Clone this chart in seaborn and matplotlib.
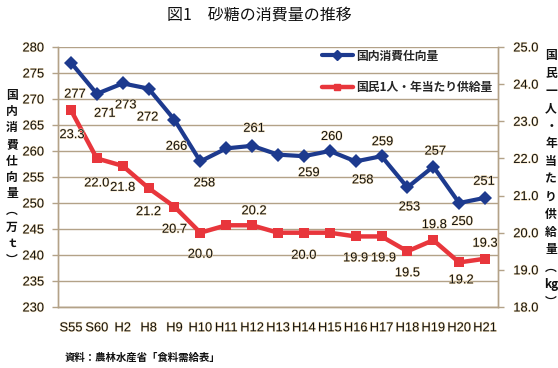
import numpy as np
import pandas as pd
import seaborn as sns
import matplotlib.pyplot as plt
import matplotlib.patheffects as pe
from matplotlib.lines import Line2D

# データ（農林水産省「食料需給表」）
years = ['S55', 'S60', 'H2', 'H8', 'H9', 'H10', 'H11', 'H12', 'H13',
         'H14', 'H15', 'H16', 'H17', 'H18', 'H19', 'H20', 'H21']
consumption = [277, 271, 273, 272, 266, 258, 260.5, 261, 259.3,
               259, 260, 258, 259, 253, 257, 250, 251]
per_capita = [23.3, 22.0, 21.8, 21.2, 20.7, 20.0, 20.2, 20.2, 20.0,
              20.0, 20.0, 19.9, 19.9, 19.5, 19.8, 19.2, 19.3]
consumption_labels = ['277', '271', '273', '272', '266', '258', None, '261', None,
                      '259', '260', '258', '259', '253', '257', '250', '251']
per_capita_labels = ['23.3', '22.0', '21.8', '21.2', '20.7', '20.0', None, '20.2', None,
                     '20.0', None, '19.9', '19.9', '19.5', '19.8', '19.2', '19.3']
left_ticks = [230, 235, 240, 245, 250, 255, 260, 265, 270, 275, 280]
right_ticks = [18.0, 19.0, 20.0, 21.0, 22.0, 23.0, 24.0, 25.0]

# ラベル位置（ピクセル単位のずらし量）
blue_off = [(4, -32), (8, -20), (3, -22), (-1, -29), (2, -27), (4, -22), None, (2, 17), None,
            (5, -17), (2, 14), (7, -19), (1, 14), (2, -20), (2, 15), (3, -19), (-1, 16)]
red_off = [(1, -25), (0, -25), (0, -22), (0, -24), (0, -23), (0, -22), None, (2, 14), None,
           (0, -23), None, (0, -22), (2, -22), (0, -22), (1, 15), (2, -18), (0, 15)]

BLUE = '#1D3A8E'
RED = '#E8363C'
GRID = '#B3A288'
TXT = '#111111'
NUM_FONT = ['Liberation Sans', 'DejaVu Sans']
JP_FONT = ['Noto Sans CJK JP', 'DejaVu Sans']
NUM_SIZE = 9.3
halo = [pe.withStroke(linewidth=0.8, foreground='#FBE6BE')]

sns.set_style('white')
plt.rcParams['font.family'] = NUM_FONT

df = pd.DataFrame({'x': np.arange(len(years)), 'consumption': consumption,
                   'per_capita': per_capita})

fig = plt.figure(figsize=(5.58, 3.68), dpi=100)
ax = fig.add_axes([58 / 558, 61 / 368, 440 / 558, 260 / 368])
ax2 = ax.twinx()

sns.lineplot(data=df, x='x', y='consumption', ax=ax, color=BLUE, linewidth=3,
             marker='D', markersize=7.5, markeredgewidth=0, zorder=5)
sns.lineplot(data=df, x='x', y='per_capita', ax=ax2, color=RED, linewidth=3.2,
             marker='s', markersize=6.5, markeredgewidth=0, zorder=5)

ax.set_xlim(-0.5, len(years) - 0.5)
ax.set_ylim(230, 280)
ax2.set_ylim(18, 25)
ax.set_yticks(left_ticks)
ax2.set_yticks(right_ticks)
ax2.set_yticklabels([f'{v:.1f}' for v in right_ticks])
ax.set_xticks(df['x'])
ax.set_xticklabels(years)
ax.set_xticks(np.arange(len(years) + 1) - 0.5, minor=True)
ax.set_xlabel('')
ax.set_ylabel('')
ax2.set_ylabel('')

ax.yaxis.grid(True, color=GRID, linewidth=1)
ax.set_axisbelow(True)
for a in (ax, ax2):
    a.spines['top'].set_visible(False)
    for s in ('left', 'right', 'bottom'):
        a.spines[s].set_color(GRID)
        a.spines[s].set_linewidth(1)

ax.tick_params(axis='x', which='major', length=0, pad=11, labelsize=NUM_SIZE)
ax.tick_params(axis='x', which='minor', length=4, color=GRID, width=1)
ax.tick_params(axis='y', length=4, color=GRID, width=1, pad=6, labelsize=NUM_SIZE, left=True)
ax2.tick_params(axis='y', length=4, color=GRID, width=1, pad=7, labelsize=NUM_SIZE, right=True)
for t in ax.get_xticklabels() + ax.get_yticklabels() + ax2.get_yticklabels():
    t.set_path_effects(halo)
    t.set_color(TXT)

# データラベル
for i, (lab, off) in enumerate(zip(consumption_labels, blue_off)):
    if lab:
        ax.annotate(lab, (i, consumption[i]), xytext=off, textcoords='offset pixels',
                    ha='center', va='center', fontsize=NUM_SIZE, color=TXT,
                    path_effects=halo, zorder=6)
for i, (lab, off) in enumerate(zip(per_capita_labels, red_off)):
    if lab:
        ax2.annotate(lab, (i, per_capita[i]), xytext=off, textcoords='offset pixels',
                     ha='center', va='center', fontsize=NUM_SIZE, color=TXT,
                     path_effects=halo, zorder=6)

# 凡例
handles = [Line2D([], [], color=BLUE, linewidth=3, marker='D', markersize=5),
           Line2D([], [], color=RED, linewidth=3.2, marker='s', markersize=5)]
ax2.legend(handles, ['国内消費仕向量', '国民1人・年当たり供給量'],
           loc='upper left', bbox_to_anchor=(0.6, 0.99), frameon=False,
           borderpad=0, borderaxespad=0, handlelength=2.6, handletextpad=0.3,
           labelspacing=1.55, numpoints=1,
           prop={'family': JP_FONT, 'size': 8.5, 'weight': 'bold'})

# タイトル・注記
fig.text(259 / 558, 1 - 15 / 368, '図1　砂糖の消費量の推移', ha='center', va='center',
         fontsize=11.5, family=JP_FONT, color=TXT)
fig.text(65 / 558, 1 - 358 / 368, '資料：農林水産省「食料需給表」', ha='left', va='center',
         fontsize=7.5, family=JP_FONT, weight='bold', color=TXT)

# 縦書きの軸ラベル
def vertical_label(chars, x, y_top, pitch):
    for k, ch in enumerate(chars):
        fig.text(x / 558, 1 - (y_top + k * pitch) / 368, ch, ha='center', va='center',
                 fontsize=8.5, family=JP_FONT, weight='bold', color=TXT)

vertical_label(['国', '内', '消', '費', '仕', '向', '量', '︵', '万', 'ｔ', '︶'], 12, 95, 16.5)
vertical_label(['国', '民', '一', '人', '・', '年', '当', 'た', 'り', '供', '給', '量', '︵', 'kg', '︶'],
               551, 56, 17.6)

fig.savefig('out.png', dpi=100)
